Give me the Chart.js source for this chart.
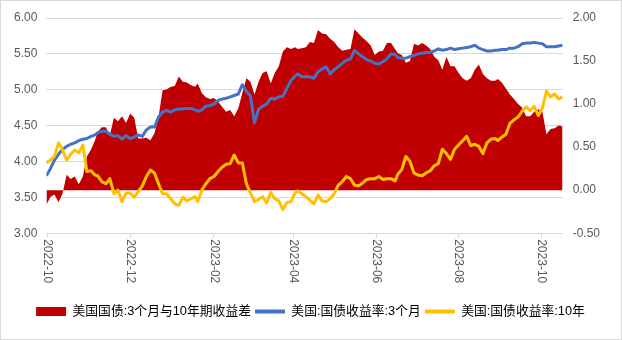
<!DOCTYPE html>
<html><head><meta charset="utf-8">
<script src="https://cdn.jsdelivr.net/npm/chart.js@4.4.1/dist/chart.umd.min.js"></script>
<style>html,body{margin:0;padding:0;background:#fff}canvas{display:block}</style>
</head><body>
<canvas id="c" width="622" height="340"></canvas>
<script>
const seriesNames = ['美国国债:3个月与10年期收益差', '美国:国债收益率:3个月', '美国:国债收益率:10年'];
const tickLabels = ['2022-10', '2022-12', '2023-02', '2023-04', '2023-06', '2023-08', '2023-10'];

// 3M minus 10Y spread (right axis)
const spread = [
 -0.17,-0.08,-0.05,-0.14,-0.04,0.18,0.13,0.16,0.07,0.16,
 0.39,0.47,0.58,0.68,0.73,0.73,0.64,0.84,0.80,0.86,
 0.78,0.89,0.84,0.60,0.60,0.61,0.58,0.66,0.85,1.16,
 1.17,1.20,1.21,1.32,1.26,1.25,1.22,1.20,1.24,1.13,
 1.08,1.06,1.07,1.03,0.97,0.91,0.93,0.86,0.95,1.13,
 1.30,1.26,1.11,1.26,1.36,1.38,1.24,1.36,1.44,1.61,
 1.66,1.64,1.66,1.64,1.65,1.66,1.72,1.71,1.86,1.82,
 1.81,1.76,1.72,1.66,1.62,1.63,1.64,1.87,1.82,1.77,
 1.73,1.68,1.57,1.61,1.62,1.71,1.71,1.64,1.59,1.57,
 1.48,1.50,1.70,1.68,1.71,1.68,1.64,1.55,1.51,1.40,
 1.55,1.44,1.44,1.36,1.30,1.27,1.30,1.40,1.46,1.35,
 1.30,1.27,1.27,1.29,1.25,1.18,1.11,1.06,1.00,0.96,
 0.86,0.86,0.91,0.94,0.91,0.65,0.71,0.72,0.75,0.74
];
// 3-month yield (left axis)
const yield3m = [
 3.80,3.90,4.02,4.10,4.17,4.21,4.24,4.26,4.29,4.31,
 4.32,4.35,4.37,4.40,4.42,4.42,4.38,4.35,4.36,4.31,
 4.36,4.32,4.34,4.37,4.35,4.44,4.48,4.48,4.62,4.69,
 4.71,4.69,4.72,4.73,4.73,4.74,4.74,4.72,4.70,4.72,
 4.77,4.78,4.80,4.85,4.87,4.88,4.90,4.92,4.94,5.07,
 4.98,4.91,4.54,4.73,4.77,4.80,4.88,4.87,4.90,4.91,
 5.02,5.13,5.19,5.22,5.18,5.18,5.18,5.16,5.25,5.29,
 5.32,5.22,5.28,5.32,5.37,5.41,5.43,5.55,5.50,5.46,
 5.42,5.40,5.37,5.36,5.39,5.43,5.50,5.49,5.45,5.44,
 5.44,5.46,5.48,5.50,5.51,5.52,5.52,5.54,5.57,5.55,
 5.56,5.58,5.56,5.57,5.58,5.59,5.60,5.62,5.58,5.56,
 5.54,5.54,5.55,5.55,5.56,5.56,5.58,5.58,5.60,5.64,
 5.65,5.65,5.66,5.65,5.64,5.60,5.60,5.60,5.61,5.62
];
// 10-year yield (left axis)
const yield10y = [
 3.98,4.02,4.07,4.26,4.16,4.02,4.10,4.16,4.12,4.23,
 3.86,3.87,3.81,3.80,3.72,3.69,3.76,3.55,3.60,3.44,
 3.56,3.56,3.50,3.58,3.66,3.79,3.88,3.84,3.69,3.55,
 3.55,3.48,3.41,3.39,3.50,3.45,3.48,3.51,3.44,3.60,
 3.69,3.76,3.79,3.86,3.92,3.96,3.97,4.09,3.98,3.98,
 3.69,3.56,3.44,3.47,3.51,3.42,3.57,3.48,3.45,3.33,
 3.43,3.44,3.56,3.59,3.55,3.51,3.46,3.41,3.53,3.45,
 3.44,3.48,3.55,3.67,3.72,3.79,3.76,3.67,3.66,3.70,
 3.75,3.76,3.76,3.79,3.75,3.76,3.76,3.73,3.82,3.89,
 4.07,4.00,3.84,3.81,3.80,3.84,3.87,3.94,3.97,4.17,
 4.11,4.03,4.17,4.23,4.29,4.35,4.22,4.24,4.21,4.11,
 4.26,4.31,4.32,4.29,4.34,4.38,4.53,4.58,4.62,4.70,
 4.76,4.71,4.77,4.64,4.74,4.98,4.90,4.94,4.87,4.90
];

const FONT = '"Liberation Sans", "Noto Sans CJK SC", sans-serif';
const BASE = Date.UTC(2022, 8, 30);
function dayOf(s) { const p = s.split('-').map(Number); return (Date.UTC(p[0], p[1] - 1, p[2] || 1) - BASE) / 864e5; }
// observation dates (roughly every 3 calendar days)
const dates = spread.map((_, i) => new Date(BASE + Math.round(i * 2.96) * 864e5).toISOString().slice(0, 10));
const xs = dates.map(dayOf);
const tickDays = tickLabels.map(dayOf);
const pts = arr => arr.map((v, i) => ({ x: xs[i], y: v }));

Chart.defaults.font.family = FONT;
Chart.defaults.font.size = 12;
Chart.defaults.color = '#595959';

const xLabelPlugin = {
  id: 'xLabels',
  afterDraw(chart) {
    const sc = chart.scales.x, ctx = chart.ctx;
    ctx.save();
    ctx.fillStyle = '#595959';
    ctx.font = '12px ' + FONT;
    ctx.textAlign = 'left';
    ctx.textBaseline = 'middle';
    tickDays.forEach((d, k) => {
      const x = sc.getPixelForValue(d);
      ctx.save();
      ctx.translate(x, sc.top + 6);
      ctx.rotate(Math.PI / 2);
      ctx.fillText(tickLabels[k], 0, 0);
      ctx.restore();
    });
    ctx.restore();
  }
};
const framePlugin = {
  id: 'frame',
  afterLayout(chart) {
    if (chart.legend) { chart.legend.left += 3; chart.legend.right += 3; }
  },
  afterDraw(chart) {
    const ctx = chart.ctx;
    ctx.save();
    ctx.strokeStyle = '#d9d9d9';
    ctx.lineWidth = 1;
    ctx.strokeRect(0.5, 0.5, chart.width - 1, chart.height - 1);
    ctx.restore();
  }
};

new Chart(document.getElementById('c'), {
  type: 'line',
  data: {
    datasets: [
      { label: seriesNames[0], data: pts(spread), yAxisID: 'y1', backgroundColor: '#C00000', borderColor: '#C00000', borderWidth: 0, fill: 'origin', pointRadius: 0, order: 3 },
      { label: seriesNames[1], data: pts(yield3m), yAxisID: 'y', borderColor: '#4472C4', backgroundColor: '#4472C4', borderWidth: 3, fill: false, pointRadius: 0, borderJoinStyle: 'round', order: 2 },
      { label: seriesNames[2], data: pts(yield10y), yAxisID: 'y', borderColor: '#FFC000', backgroundColor: '#FFC000', borderWidth: 3, fill: false, pointRadius: 0, borderJoinStyle: 'round', order: 1 }
    ]
  },
  options: {
    responsive: false,
    animation: false,
    layout: { padding: { top: 18, left: 5, right: 12, bottom: 12 } },
    plugins: {
      tooltip: { enabled: false },
      legend: {
        position: 'bottom',
        labels: {
          usePointStyle: true,
          pointStyleWidth: 30,
          boxHeight: 9,
          padding: 4,
          color: '#595959',
          font: { size: 12.8, family: FONT },
          generateLabels: () => [
            { text: seriesNames[0], pointStyle: 'rect', fillStyle: '#C00000', strokeStyle: '#C00000', lineWidth: 0, datasetIndex: 0 },
            { text: seriesNames[1], pointStyle: 'line', fillStyle: '#4472C4', strokeStyle: '#4472C4', lineWidth: 4, datasetIndex: 1 },
            { text: seriesNames[2], pointStyle: 'line', fillStyle: '#FFC000', strokeStyle: '#FFC000', lineWidth: 4, datasetIndex: 2 }
          ]
        }
      }
    },
    scales: {
      x: {
        type: 'linear',
        min: 0,
        max: xs[xs.length - 1],
        afterBuildTicks: s => { s.ticks = tickDays.map(v => ({ value: v })); },
        afterFit: s => { s.height = 68; },
        ticks: { display: false },
        grid: { display: true, drawOnChartArea: false, drawTicks: true, tickLength: 5, color: '#d9d9d9' },
        border: { display: true, color: '#d9d9d9' }
      },
      y: {
        position: 'left',
        min: 3, max: 6,
        ticks: { stepSize: 0.5, padding: 9, color: '#595959', callback: v => v.toFixed(2) },
        grid: { color: '#d9d9d9', drawTicks: false },
        border: { display: false }
      },
      y1: {
        position: 'right',
        min: -0.5, max: 2,
        ticks: { stepSize: 0.5, padding: 10, color: '#595959', callback: v => v.toFixed(2) },
        grid: { display: false, drawOnChartArea: false, drawTicks: false },
        border: { display: false }
      }
    }
  },
  plugins: [xLabelPlugin, framePlugin]
});
</script>
</body></html>
